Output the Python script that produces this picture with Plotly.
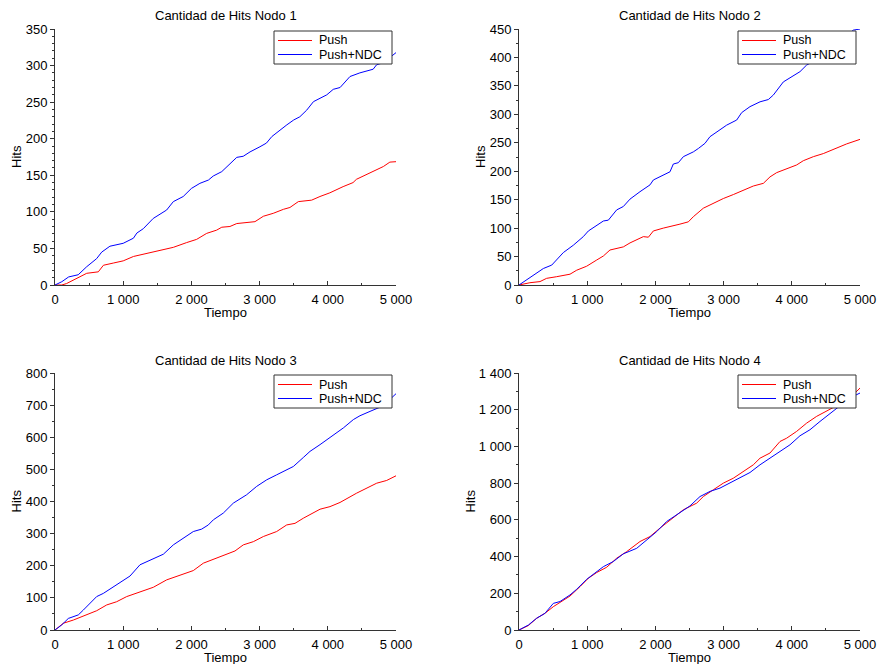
import plotly.graph_objects as go

# ---------------- data ----------------
# Nodo 1
n1_push_t = [0, 100, 170, 320, 465, 635, 710, 855, 1000, 1150, 1295, 1440, 1590, 1735, 1930, 2077, 2224, 2370, 2445, 2565, 2665, 2932, 3055, 3200, 3350, 3445, 3568, 3763, 3885, 4030, 4225, 4370, 4420, 4615, 4715, 4815, 4910, 5000]
n1_push_h = [0, 0, 2, 9, 16, 18, 27, 30, 33, 39, 42, 45.6, 48, 51.5, 58, 62.4, 70.6, 75, 79, 80, 84, 86.6, 94, 98, 103.5, 106, 114, 116, 121, 126, 134.5, 140, 144.5, 152.7, 157, 162, 168, 168.6]
n1_ndc_t = [0, 100, 200, 340, 465, 610, 685, 805, 1000, 1150, 1200, 1295, 1440, 1637, 1735, 1880, 2000, 2125, 2250, 2320, 2445, 2565, 2665, 2760, 2860, 3005, 3100, 3180, 3300, 3400, 3500, 3590, 3690, 3790, 3985, 4080, 4180, 4325, 4470, 4665, 4715, 4815, 4910, 5000]
n1_ndc_h = [0, 4.5, 11, 14, 25, 36, 45, 53, 57, 64, 71, 77, 91, 102.5, 114, 121, 132, 139, 143.5, 149, 155, 166, 174.5, 176, 182, 189, 194, 203, 212, 219, 225.6, 230, 239, 250.7, 260, 267.5, 270, 285, 290, 295, 301, 304, 311, 317.7]

# Nodo 2
n2_push_t = [0, 160, 308, 405, 552, 748, 846, 992, 1140, 1237, 1334, 1530, 1628, 1823, 1897, 1970, 2116, 2214, 2360, 2483, 2556, 2703, 2850, 2996, 3143, 3290, 3436, 3583, 3680, 3778, 3925, 4071, 4169, 4316, 4462, 4609, 4804, 5000]
n2_push_h = [0, 4, 6, 11.7, 14.6, 19, 26, 33, 44, 51, 61.5, 67, 74, 85, 84, 95, 100, 102.5, 107, 111, 120, 135, 143.5, 152, 159, 167, 174, 178.7, 190, 197.5, 205, 211, 218.5, 225.6, 231, 238.5, 248, 256]
n2_ndc_t = [0, 112, 260, 357, 480, 552, 650, 797, 943, 1017, 1140, 1237, 1310, 1432, 1530, 1628, 1774, 1921, 1970, 2116, 2214, 2263, 2336, 2410, 2556, 2630, 2727, 2800, 2947, 3045, 3192, 3265, 3387, 3534, 3656, 3730, 3876, 4022, 4120, 4218, 4365, 4462, 4609, 4756, 4902, 5000]
n2_ndc_h = [0, 9, 20.5, 29, 35, 44, 57, 70, 85, 95, 104, 112.5, 114, 132, 138, 151, 164, 176, 184.6, 193, 199, 212.7, 215, 225.6, 234, 240, 249, 260.7, 272.5, 281, 290, 303, 313.5, 322, 326, 334, 357, 367, 375, 386.7, 395.5, 407, 422, 433.6, 448, 450]

# Nodo 3
n3_push_t = [0, 122, 269, 415, 611, 758, 904, 1051, 1246, 1442, 1637, 1833, 2028, 2175, 2322, 2517, 2639, 2761, 2908, 3055, 3250, 3397, 3519, 3641, 3788, 3886, 4032, 4179, 4423, 4570, 4717, 4863, 5000]
n3_push_h = [0, 21, 31, 44, 60, 78, 88, 104, 119.5, 133, 156, 171, 185, 208, 220, 234, 246, 265, 275, 291, 306.5, 327, 332, 348, 364, 376, 384, 397, 426, 441.5, 457, 465.5, 480]
n3_ndc_t = [0, 98, 195, 342, 415, 611, 709, 855, 1000, 1100, 1246, 1393, 1589, 1735, 1930, 2028, 2150, 2248, 2322, 2468, 2615, 2810, 2957, 3104, 3250, 3397, 3495, 3641, 3739, 3886, 3984, 4081, 4228, 4375, 4472, 4619, 4814, 5000]
n3_ndc_h = [0, 15.6, 36, 47, 62, 104, 114, 135, 156, 168, 203, 218, 236, 265, 291, 306.5, 314, 327, 343, 364, 395, 421, 447, 467.5, 483, 499, 509, 537, 556, 577, 592, 605, 629, 655, 667, 680.5, 698, 735.6]

# Nodo 4
n4_push_t = [0, 137, 259, 381, 503, 650, 748, 894, 1017, 1139, 1286, 1432, 1579, 1774, 1921, 2067, 2214, 2410, 2605, 2703, 2850, 2996, 3143, 3290, 3436, 3534, 3680, 3827, 3925, 4071, 4218, 4365, 4511, 4658, 4853, 5000]
n4_push_h = [0, 24, 64, 91, 127, 160, 185, 236, 282, 313, 342, 391, 427, 482, 509, 555, 600, 655, 691, 727, 764, 800, 827, 864, 900, 936, 964, 1027, 1045, 1082, 1127, 1164, 1191, 1222, 1264, 1318]
n4_ndc_t = [0, 137, 259, 381, 503, 601, 748, 846, 992, 1139, 1237, 1383, 1530, 1726, 1872, 2019, 2165, 2312, 2507, 2654, 2801, 2947, 3094, 3241, 3387, 3534, 3680, 3827, 3974, 4120, 4267, 4413, 4560, 4707, 4853, 5000]
n4_ndc_h = [0, 27, 64, 91, 145, 155, 191, 222, 276, 318, 345, 373, 415, 445, 491, 536, 591, 627, 676, 727, 755, 773, 800, 827, 858, 900, 936, 973, 1009, 1058, 1091, 1136, 1178, 1222, 1264, 1291]

titles = ["Cantidad de Hits Nodo 1", "Cantidad de Hits Nodo 2",
          "Cantidad de Hits Nodo 3", "Cantidad de Hits Nodo 4"]
series_names = ["Push", "Push+NDC"]
y_max = [350, 450, 800, 1400]
y_dtick = [50, 50, 100, 200]
y_minor = [10, 25, 50, 100]
x_max = 5000

panels = [
    (n1_push_t, n1_push_h, n1_ndc_t, n1_ndc_h),
    (n2_push_t, n2_push_h, n2_ndc_t, n2_ndc_h),
    (n3_push_t, n3_push_h, n3_ndc_t, n3_ndc_h),
    (n4_push_t, n4_push_h, n4_ndc_t, n4_ndc_h),
]

# ---------------- layout geometry (pixels) ----------------
W, H = 877, 664
FONT = "Liberation Sans, Arial, sans-serif"
RED = "#ff0000"
BLUE = "#0000ff"
AXC = "#333333"

def px(x):
    return x / W

def py(y):
    return 1 - y / H

# plot area boxes: left, right, top, bottom (pixels)
boxes = [(55, 396, 29, 285), (519, 860, 29, 285),
         (55, 396, 373, 630), (519, 860, 373, 630)]

fig = go.Figure()
annotations = []
shapes = []

for i, (pt, ph, nt, nh) in enumerate(panels):
    k = "" if i == 0 else str(i + 1)
    xa, ya = "x" + k, "y" + k
    fig.add_trace(go.Scatter(x=pt, y=ph, mode="lines", name=series_names[0],
                             line=dict(color=RED, width=1), xaxis=xa, yaxis=ya,
                             showlegend=False))
    fig.add_trace(go.Scatter(x=nt, y=nh, mode="lines", name=series_names[1],
                             line=dict(color=BLUE, width=1), xaxis=xa, yaxis=ya,
                             showlegend=False))
    l, r, t, b = boxes[i]
    fig.update_layout(**{
        "xaxis" + k: dict(
            domain=[px(l), px(r)], anchor=ya, range=[0, x_max],
            dtick=1000, tick0=0, ticks="inside", ticklen=4, tickcolor=AXC,
            minor=dict(ticks="inside", dtick=500, ticklen=2, tickcolor=AXC),
            showline=True, linecolor=AXC, linewidth=1, showgrid=False,
            zeroline=False, separatethousands=True, automargin=False,
            tickfont=dict(size=13, color="black", family=FONT),
            ticklabelstandoff=2,
        ),
        "yaxis" + k: dict(
            domain=[py(b), py(t)], anchor=xa, range=[0, y_max[i]],
            dtick=y_dtick[i], tick0=0, ticks="outside", ticklen=4, tickcolor=AXC,
            minor=dict(ticks="outside", dtick=y_minor[i], ticklen=2, tickcolor=AXC),
            showline=True, linecolor=AXC, linewidth=1, showgrid=False,
            zeroline=False, separatethousands=True, automargin=False,
            tickfont=dict(size=13, color="black", family=FONT),
        ),
    })
    cx = (l + r) / 2
    # subplot title
    annotations.append(dict(text=titles[i], x=px(cx), y=py(t - 13), xref="paper", yref="paper",
                            showarrow=False, xanchor="center", yanchor="middle",
                            font=dict(size=13, color="black", family=FONT)))
    # x axis title
    annotations.append(dict(text="Tiempo", x=px(cx), y=py(b + 27), xref="paper", yref="paper",
                            showarrow=False, xanchor="center", yanchor="middle",
                            font=dict(size=13, color="black", family=FONT)))
    # y axis title
    ylab_x = 16 if i in (0, 2) else (480 if i == 1 else 470)
    annotations.append(dict(text="Hits", x=px(ylab_x), y=py((t + b) / 2), xref="paper", yref="paper",
                            showarrow=False, xanchor="center", yanchor="middle", textangle=-90,
                            font=dict(size=13, color="black", family=FONT)))
    # legend box
    lx0, lx1 = r - 122, r - 4
    ly0, ly1 = t + 2, t + 35
    shapes.append(dict(type="rect", xref="paper", yref="paper",
                       x0=px(lx0), x1=px(lx1), y0=py(ly1), y1=py(ly0),
                       line=dict(color=AXC, width=1), fillcolor="white", layer="above"))
    for j, (name, col) in enumerate(zip(series_names, [RED, BLUE])):
        yy = ly0 + 9.5 + 14 * j
        shapes.append(dict(type="line", xref="paper", yref="paper",
                           x0=px(lx0 + 4), x1=px(lx0 + 38), y0=py(yy), y1=py(yy),
                           line=dict(color=col, width=1), layer="above"))
        annotations.append(dict(text=name, x=px(lx0 + 43), y=py(yy), xref="paper", yref="paper",
                                showarrow=False, xanchor="left", yanchor="middle",
                                font=dict(size=12.5, color="black", family=FONT)))

fig.update_layout(
    width=W, height=H,
    margin=dict(l=0, r=0, t=0, b=0, autoexpand=False),
    paper_bgcolor="white", plot_bgcolor="white",
    separators=", ",
    showlegend=False,
    annotations=annotations,
    shapes=shapes,
    font=dict(family=FONT, size=13, color="black"),
)

fig.write_html("out.html")
